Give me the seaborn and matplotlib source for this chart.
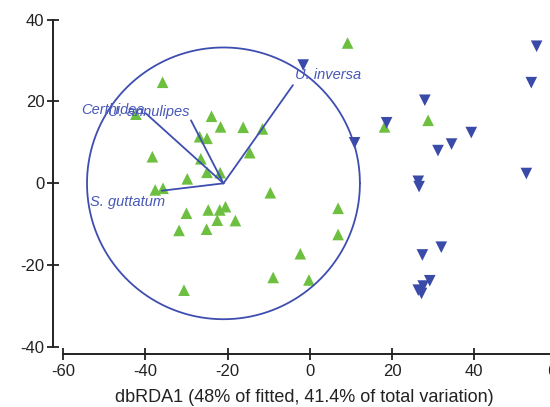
import matplotlib
matplotlib.use("Agg")
import matplotlib.pyplot as plt
import seaborn as sns
import pandas as pd
import numpy as np

# dbRDA site scores
green_x = [-35.8, -42.3, -38.3, -23.9, -21.7, -16.2, -11.5, -26.8, -25.0, -14.6,
           -26.5, -29.8, -25.0, -21.8, -37.6, -35.7, -9.6, -24.7, -21.9, -20.5,
           -22.5, -18.1, -30.0, -25.1, -31.8, -2.3, -30.6, -8.9, 6.9, 6.9,
           -0.2, 9.2, 18.2, 28.8]
green_y = [24.7, 16.9, 6.5, 16.4, 13.8, 13.7, 13.3, 11.4, 11.0, 7.5,
           6.0, 1.1, 2.7, 2.6, -1.6, -1.2, -2.3, -6.5, -6.5, -5.7,
           -9.0, -9.1, -7.3, -11.2, -11.5, -17.2, -26.1, -23.0, -6.1, -12.5,
           -23.6, 34.3, 13.8, 15.4]
blue_x = [-1.6, 10.9, 18.7, 28.0, 39.3, 34.5, 31.2, 26.4, 26.6, 52.7,
          53.9, 55.2, 32.0, 27.4, 29.2, 27.6, 26.4, 27.2]
blue_y = [28.9, 9.9, 14.8, 20.3, 12.4, 9.6, 8.0, 0.5, -0.8, 2.4,
          24.6, 33.5, -15.6, -17.5, -23.8, -25.1, -26.1, -26.9]

# species vectors
species = ["Certhidea", "U. annulipes", "S. guttatum", "U. inversa"]
vec_x = [-39.9, -28.9, -36.0, -4.1]
vec_y = [17.1, 15.4, -1.8, 24.0]
label_x = [-55.5, -49.1, -53.5, -3.6]
label_y = [17.9, 17.4, -4.5, 26.4]
origin = (-21.0, 0.0)
radius = 33.2

df = pd.DataFrame({
    "x": green_x + blue_x,
    "y": green_y + blue_y,
    "group": ["A"] * len(green_x) + ["B"] * len(blue_x),
})

sns.set_style("white")
plt.rcParams["font.family"] = ["Liberation Sans", "DejaVu Sans"]
plt.rcParams["axes.unicode_minus"] = False

fig = plt.figure(figsize=(5.5, 4.07), dpi=100)
ax = fig.add_axes([0.0969, 0.1302, 0.9326, 0.8698])

sns.scatterplot(data=df, x="x", y="y", hue="group", style="group",
                markers={"A": "^", "B": "v"},
                palette={"A": "#6cbf3f", "B": "#3a4aa8"},
                s=70, linewidth=0, legend=False, ax=ax, zorder=2)

line_col = "#3e4db0"
t = np.linspace(0, 2 * np.pi, 300)
ax.plot(origin[0] + radius * np.cos(t), origin[1] + radius * np.sin(t),
        color=line_col, lw=1.3, zorder=3)
for name, vx, vy, lx, ly in zip(species, vec_x, vec_y, label_x, label_y):
    ax.plot([origin[0], vx], [origin[1], vy], color=line_col, lw=1.3, zorder=3)
    ax.text(lx, ly, name, color="#4757b8", fontsize=10.5, style="italic",
            va="center", ha="left", zorder=4)

ax.set_xlim(-62.4, 62.4)
ax.set_ylim(-41.7, 44.8)
ax.set_xticks([-60, -40, -20, 0, 20, 40, 60])
ax.set_yticks([-40, -20, 0, 20, 40])
for s in ["top", "right"]:
    ax.spines[s].set_visible(False)
ax.spines["left"].set_bounds(-40, 40)
ax.spines["bottom"].set_bounds(-60, 60)
for s in ["left", "bottom"]:
    ax.spines[s].set_linewidth(1.4)
    ax.spines[s].set_color("#222222")
ax.tick_params(bottom=True, left=True, direction="inout", length=9, width=1.3,
               colors="#222222", labelsize=12, labelcolor="#222222")
ax.tick_params(axis="y", pad=2)
ax.tick_params(axis="x", pad=3)

ax.set_xlabel("dbRDA1 (48% of fitted, 41.4% of total variation)",
              fontsize=13, color="#222222")
ax.xaxis.set_label_coords(0.489, -0.1)
ax.set_ylabel("")

fig.savefig("out.png", dpi=100)
